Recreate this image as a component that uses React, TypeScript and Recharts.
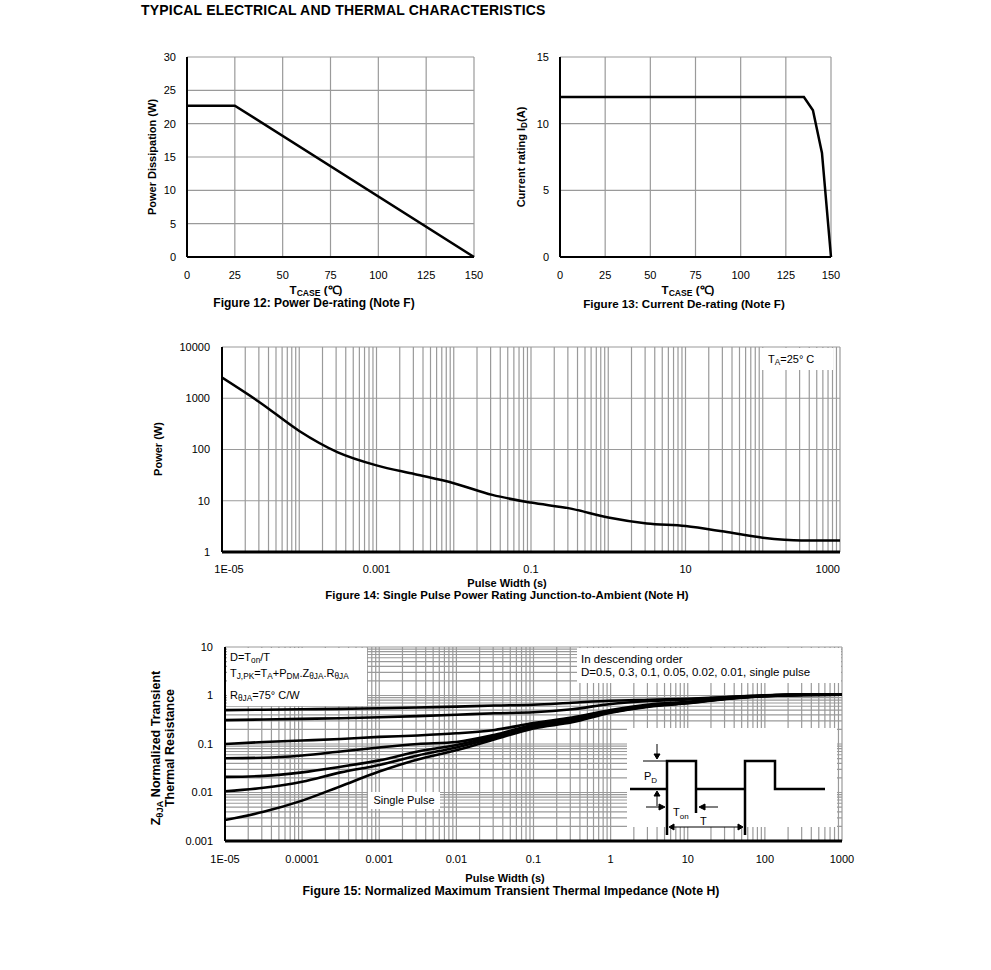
import React from "react";
import { LineChart, Line, XAxis, YAxis, CartesianGrid } from "recharts";

const FONT = "'Liberation Sans', Arial, Helvetica, sans-serif";

// Figure 12: power de-rating
const tcase12 = [0, 25, 150];
const power12 = [22.7, 22.7, 0];
const ticks12X = [0, 25, 50, 75, 100, 125, 150];
const ticks12Y = [0, 5, 10, 15, 20, 25, 30];

// Figure 13: current de-rating
const tcase13 = [0, 135, 140, 145, 150];
const current13 = [12, 12, 11, 7.8, 0];
const ticks13X = [0, 25, 50, 75, 100, 125, 150];
const ticks13Y = [0, 5, 10, 15];

// Figure 14: single pulse power rating
const pulse14 = [1e-5, 3.16e-5, 1e-4, 3.16e-4, 1e-3, 3.16e-3, 0.01, 0.0316, 0.1, 0.316, 1, 3.16, 10, 31.6, 100, 316, 1000];
const power14 = [2530, 810, 230, 88, 49, 33, 22, 13, 9.2, 7.1, 4.7, 3.6, 3.2, 2.5, 1.9, 1.68, 1.68];
const decades14 = [1e-5, 1e-4, 1e-3, 1e-2, 0.1, 1, 10, 100, 1000];
const labelVals14 = [1e-5, 1e-3, 0.1, 10, 1000];
const labelText14 = ["1E-05", "0.001", "0.1", "10", "1000"];
const ticks14Y = [1, 10, 100, 1000, 10000];

// Figure 15: normalized transient thermal impedance
const pulse15 = [1e-5, 3.16e-5, 1e-4, 3.16e-4, 1e-3, 3.16e-3, 0.01, 0.0316, 0.1, 0.316, 1, 3.16, 10, 31.6, 100, 316, 1000];
const zD05 = [0.5, 0.51, 0.52, 0.53, 0.545, 0.565, 0.59, 0.62, 0.645, 0.71, 0.78, 0.82, 0.86, 0.93, 1.01, 1.04, 1.04];
const zD03 = [0.31, 0.32, 0.33, 0.34, 0.355, 0.375, 0.4, 0.43, 0.45, 0.52, 0.67, 0.77, 0.83, 0.92, 1.0, 1.04, 1.04];
const zD01 = [0.1, 0.11, 0.118, 0.127, 0.14, 0.15, 0.166, 0.195, 0.27, 0.35, 0.5, 0.65, 0.74, 0.88, 0.99, 1.04, 1.04];
const zD005 = [0.051, 0.052, 0.058, 0.07, 0.085, 0.1, 0.11, 0.155, 0.25, 0.33, 0.48, 0.62, 0.72, 0.87, 0.98, 1.03, 1.04];
const zD002 = [0.021, 0.022, 0.026, 0.034, 0.046, 0.07, 0.095, 0.145, 0.23, 0.31, 0.46, 0.61, 0.71, 0.86, 0.98, 1.03, 1.04];
const zD001 = [0.0106, 0.0125, 0.0167, 0.026, 0.037, 0.058, 0.085, 0.135, 0.22, 0.3, 0.45, 0.6, 0.7, 0.86, 0.97, 1.03, 1.04];
const zSingle = [0.0027, 0.004, 0.0068, 0.0135, 0.027, 0.048, 0.074, 0.125, 0.21, 0.28, 0.44, 0.59, 0.69, 0.85, 0.97, 1.03, 1.04];
const decades15X = [1e-5, 1e-4, 1e-3, 1e-2, 0.1, 1, 10, 100, 1000];
const labelText15X = ["1E-05", "0.0001", "0.001", "0.01", "0.1", "1", "10", "100", "1000"];
const decades15Y = [0.001, 0.01, 0.1, 1, 10];
const labelText15Y = ["0.001", "0.01", "0.1", "1", "10"];

// 1..9 per decade, for the log grids
const logGrid = (decades: number[]) => {
  const out: number[] = [];
  decades.forEach((d, i) => {
    if (i === decades.length - 1) {
      out.push(d);
      return;
    }
    for (let m = 1; m <= 9; m++) out.push(+(m * d).toPrecision(6));
  });
  return out;
};

const labelFor = (vals: number[], texts: string[]) => (v: number) => {
  const i = vals.findIndex((x) => Math.abs(Math.log10(x) - Math.log10(v)) < 1e-6);
  return i >= 0 ? texts[i] : "";
};

const label14 = labelFor(labelVals14, labelText14);

const data12 = tcase12.map((t, i) => ({ t, p: power12[i] }));
const data13 = tcase13.map((t, i) => ({ t, a: current13[i] }));
const data14 = pulse14.map((x, i) => ({ x, p: power14[i] }));
const data15 = pulse15.map((x, i) => ({
  x,
  d05: zD05[i],
  d03: zD03[i],
  d01: zD01[i],
  d005: zD005[i],
  d002: zD002[i],
  d001: zD001[i],
  single: zSingle[i],
}));
const keys15 = ["d05", "d03", "d01", "d005", "d002", "d001", "single"];

const tickStyle = { fontSize: 11, fill: "#000", fontFamily: FONT };
const GRID = "#9a9a9a";

// first label nudged right, last one ends at the plot edge
const Tick14 = (props: any) => {
  const { x, y, payload } = props;
  const txt = label14(payload.value);
  if (!txt) return <g />;
  const last = txt === "1000";
  const first = txt === "1E-05";
  return (
    <text
      x={x + (first ? 7 : 0)}
      y={y}
      dy="0.71em"
      textAnchor={last ? "end" : "middle"}
      fontSize={11}
      fontFamily={FONT}
      fill="#000"
    >
      {txt}
    </text>
  );
};

const Sub = ({ children }: { children: React.ReactNode }) => (
  <span style={{ fontSize: "0.75em", verticalAlign: "-0.3em", lineHeight: 0 }}>{children}</span>
);

const Txt = ({
  x,
  y,
  children,
  size = 11,
  bold = false,
  rotate = false,
  start = false,
  spacing = 0,
}: {
  x: number;
  y: number;
  children: React.ReactNode;
  size?: number;
  bold?: boolean;
  rotate?: boolean;
  start?: boolean;
  spacing?: number;
}) => (
  <div
    style={{
      position: "absolute",
      left: x,
      top: y,
      transform: `translate(${start ? "0" : "-50%"}, -50%)${rotate ? " rotate(-90deg)" : ""}`,
      fontSize: size,
      fontWeight: bold ? 700 : 400,
      whiteSpace: "nowrap",
      lineHeight: 1.1,
      textAlign: "center",
      letterSpacing: spacing,
    }}
  >
    {children}
  </div>
);

const Box = ({ x, y, w, h }: { x: number; y: number; w: number; h: number }) => (
  <div style={{ position: "absolute", left: x, top: y, width: w, height: h, background: "#fff" }} />
);

const Pos = ({ x, y, children }: { x: number; y: number; children: React.ReactNode }) => (
  <div style={{ position: "absolute", left: x, top: y }}>{children}</div>
);

// pulse train sketch in figure 15
const PulseInset = () => (
  <svg width={210} height={110} style={{ position: "absolute", left: 627, top: 728, overflow: "visible" }}>
    <g stroke="#000" strokeWidth={2.5} fill="none">
      <polyline points="3,61 40,61" />
      <polyline points="40,107 40,33 69,33 69,85" />
      <polyline points="69,61 118,61" />
      <polyline points="118,107 118,33 148,33 148,61 198,61" />
    </g>
    <g stroke="#000" strokeWidth={1} fill="#000">
      <line x1={16} y1={33} x2={40} y2={33} />
      <line x1={30} y1={16} x2={30} y2={27} />
      <polygon points="27,26 33,26 30,31" />
      <line x1={30} y1={78} x2={30} y2={67} />
      <polygon points="27,68 33,68 30,63" />
      <line x1={19} y1={79} x2={33} y2={79} />
      <polygon points="32,76 32,82 38,79" />
      <line x1={91} y1={79} x2={77} y2={79} />
      <polygon points="78,76 78,82 72,79" />
      <line x1={46} y1={99} x2={112} y2={99} />
      <polygon points="47,96 47,102 42,99" />
      <polygon points="111,96 111,102 116,99" />
    </g>
    <text x={17} y={52} fontSize={11} fontFamily={FONT}>
      P<tspan fontSize={8} dy={3}>D</tspan>
    </text>
    <text x={46} y={88} fontSize={11} fontFamily={FONT}>
      T<tspan fontSize={8} dy={3}>on</tspan>
    </text>
    <text x={73} y={97} fontSize={11} fontFamily={FONT}>
      T
    </text>
  </svg>
);

export default function App() {
  const grid14X = logGrid(decades14);
  const grid15X = logGrid(decades15X);
  const grid15Y = logGrid(decades15Y);

  return (
    <div
      style={{
        position: "absolute",
        left: 0,
        top: 0,
        width: 991,
        height: 970,
        background: "#fff",
        fontFamily: FONT,
        color: "#000",
        overflow: "hidden",
      }}
    >
      <Txt x={141} y={11} size={14} bold start spacing={0.2}>
        TYPICAL ELECTRICAL AND THERMAL CHARACTERISTICS
      </Txt>

      {/* Figure 12 */}
      <Pos x={120} y={40}>
        <LineChart width={370} height={260} data={data12} margin={{ top: 17, right: 16, left: 0, bottom: 13 }}>
          <CartesianGrid stroke={GRID} strokeWidth={1.2} />
          <XAxis
            dataKey="t"
            type="number"
            domain={[0, 150]}
            ticks={ticks12X}
            interval={0}
            tick={tickStyle}
            tickLine={false}
            tickMargin={8}
            height={30}
            axisLine={{ stroke: "#000", strokeWidth: 2 }}
          />
          <YAxis
            type="number"
            domain={[0, 30]}
            ticks={ticks12Y}
            interval={0}
            tick={tickStyle}
            tickLine={false}
            tickMargin={5}
            width={67}
            axisLine={{ stroke: "#000", strokeWidth: 2 }}
          />
          <Line type="linear" dataKey="p" stroke="#000" strokeWidth={2.5} dot={false} activeDot={false} isAnimationActive={false} />
        </LineChart>
      </Pos>
      <Txt x={152} y={157} bold rotate>
        Power Dissipation (W)
      </Txt>
      <Txt x={316} y={290} size={11.5} bold>
        T<Sub>CASE</Sub> (℃)
      </Txt>
      <Txt x={314} y={304} size={12} bold>
        Figure 12: Power De-rating (Note F)
      </Txt>

      {/* Figure 13 */}
      <Pos x={500} y={40}>
        <LineChart width={350} height={260} data={data13} margin={{ top: 17, right: 19, left: 0, bottom: 13 }}>
          <CartesianGrid stroke={GRID} strokeWidth={1.2} />
          <XAxis
            dataKey="t"
            type="number"
            domain={[0, 150]}
            ticks={ticks13X}
            interval={0}
            tick={tickStyle}
            tickLine={false}
            tickMargin={8}
            height={30}
            axisLine={{ stroke: "#000", strokeWidth: 2 }}
          />
          <YAxis
            type="number"
            domain={[0, 15]}
            ticks={ticks13Y}
            interval={0}
            tick={tickStyle}
            tickLine={false}
            tickMargin={5}
            width={60}
            axisLine={{ stroke: "#000", strokeWidth: 2 }}
          />
          <Line type="linear" dataKey="a" stroke="#000" strokeWidth={2.5} dot={false} activeDot={false} isAnimationActive={false} />
        </LineChart>
      </Pos>
      <Txt x={521} y={157} bold rotate>
        Current rating I<Sub>D</Sub>(A)
      </Txt>
      <Txt x={688} y={290} size={11.5} bold>
        T<Sub>CASE</Sub> (℃)
      </Txt>
      <Txt x={684} y={304} size={11.6} bold>
        Figure 13: Current De-rating (Note F)
      </Txt>

      {/* Figure 14 */}
      <Pos x={140} y={330}>
        <LineChart width={710} height={260} data={data14} margin={{ top: 17, right: 10, left: 0, bottom: 8 }}>
          <CartesianGrid stroke={GRID} strokeWidth={1.2} />
          <XAxis
            dataKey="x"
            type="number"
            scale="log"
            domain={[1e-5, 1000]}
            ticks={grid14X}
            interval={0}
            tick={<Tick14 />}
            tickLine={false}
            tickMargin={7}
            height={30}
            allowDataOverflow
            axisLine={{ stroke: "#000", strokeWidth: 3 }}
          />
          <YAxis
            type="number"
            scale="log"
            domain={[1, 10000]}
            ticks={ticks14Y}
            interval={0}
            tick={tickStyle}
            tickLine={false}
            tickMargin={6}
            width={82}
            allowDataOverflow
            axisLine={{ stroke: "#000", strokeWidth: 2 }}
          />
          <Line type="monotone" dataKey="p" stroke="#000" strokeWidth={2.5} dot={false} activeDot={false} isAnimationActive={false} />
        </LineChart>
      </Pos>
      <Box x={760} y={348} w={73} h={22} />
      <Txt x={768} y={359} start>
        T<Sub>A</Sub>=25° C
      </Txt>
      <Txt x={158} y={449} bold rotate>
        Power (W)
      </Txt>
      <Txt x={507} y={583} bold>
        Pulse Width (s)
      </Txt>
      <Txt x={507} y={595} size={11.4} bold>
        Figure 14: Single Pulse Power Rating Junction-to-Ambient (Note H)
      </Txt>

      {/* Figure 15 */}
      <Pos x={140} y={630}>
        <LineChart width={740} height={250} data={data15} margin={{ top: 17, right: 38, left: 0, bottom: 9 }}>
          <CartesianGrid stroke={GRID} strokeWidth={1.2} />
          <XAxis
            dataKey="x"
            type="number"
            scale="log"
            domain={[1e-5, 1000]}
            ticks={grid15X}
            interval={0}
            tickFormatter={labelFor(decades15X, labelText15X)}
            tick={tickStyle}
            tickLine={false}
            tickMargin={8}
            height={30}
            allowDataOverflow
            axisLine={{ stroke: "#000", strokeWidth: 3 }}
          />
          <YAxis
            type="number"
            scale="log"
            domain={[0.001, 10]}
            ticks={grid15Y}
            interval={0}
            tickFormatter={labelFor(decades15Y, labelText15Y)}
            tick={tickStyle}
            tickLine={false}
            tickMargin={6}
            width={85}
            allowDataOverflow
            axisLine={{ stroke: "#000", strokeWidth: 2 }}
          />
          {keys15.map((k) => (
            <Line
              key={k}
              type="monotone"
              dataKey={k}
              stroke="#000"
              strokeWidth={2.6}
              dot={false}
              activeDot={false}
              isAnimationActive={false}
            />
          ))}
        </LineChart>
      </Pos>
      <Box x={227} y={648} w={140} h={58} />
      <Txt x={230} y={657} start>
        D=T<Sub>on</Sub>/T
      </Txt>
      <Txt x={230} y={673} start>
        T<Sub>J,PK</Sub>=T<Sub>A</Sub>+P<Sub>DM</Sub>.Z<Sub>θJA</Sub>.R<Sub>θJA</Sub>
      </Txt>
      <Txt x={230} y={695} start>
        R<Sub>θJA</Sub>=75° C/W
      </Txt>
      <Box x={577} y={648} w={264} h={35} />
      <Txt x={581} y={659} size={11.5} start>
        In descending order
      </Txt>
      <Txt x={581} y={672} size={11.5} start>
        D=0.5, 0.3, 0.1, 0.05, 0.02, 0.01, single pulse
      </Txt>
      <Box x={368} y={792} w={72} h={17} />
      <Txt x={404} y={800}>Single Pulse</Txt>
      <Box x={627} y={728} w={210} h={99} />
      <PulseInset />
      <Txt x={164} y={748} size={12.5} bold rotate>
        <div>
          Z<Sub>θJA</Sub> Normalized Transient
        </div>
        <div>Thermal Resistance</div>
      </Txt>
      <Txt x={505} y={878} bold>
        Pulse Width (s)
      </Txt>
      <Txt x={511} y={892} size={12.3} bold>
        Figure 15: Normalized Maximum Transient Thermal Impedance (Note H)
      </Txt>
    </div>
  );
}
